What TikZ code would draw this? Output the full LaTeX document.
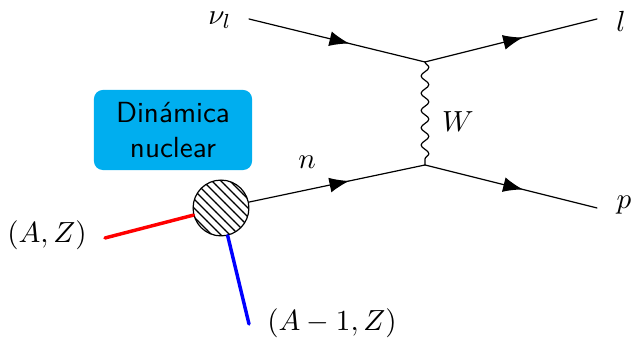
\documentclass[tikz,border=0pt]{standalone}
\usetikzlibrary{arrows.meta,decorations.markings,decorations.pathmorphing,patterns}
\definecolor{boxblue}{RGB}{0,174,239}
\tikzset{
  fermion/.style={thin,decoration={markings,mark=at position 0.57 with {\arrow{Latex[length=6.6pt,width=5pt]}}},postaction={decorate}},
  boson/.style={thin,decoration={snake,amplitude=1.3pt,segment length=5.75pt},decorate},
  blob/.style={circle,draw,thin,minimum size=18.6pt,inner sep=0pt,pattern=north west lines},
  nucleon/.style={line width=1.15pt},
  lbl/.style={scale=0.97},
}
\begin{document}
\begin{tikzpicture}[x=0.3333pt,y=-0.3333pt,line cap=round,line join=round]
  \useasboundingbox (0,0) rectangle (631,338);

  % Vertices
  \coordinate (Vt) at (425,62);
  \coordinate (Vb) at (425,165);

  % Free ends
  \coordinate (Nu) at (249,19);
  \coordinate (Lp) at (597,19);
  \coordinate (Pr) at (597,208);
  \coordinate (In) at (105,238);
  \coordinate (Out) at (249,324);

  % Nucleus
  \node[blob] (N) at (221,208) {};

  % Fermion lines
  \draw[fermion] (Nu) -- (Vt);
  \draw[fermion] (Vt) -- (Lp);
  \draw[fermion] (N) -- (Vb);
  \draw[fermion] (Vb) -- (Pr);

  % W exchange
  \draw[boson] (Vt) -- (Vb);

  % Nucleus legs
  \draw[nucleon,red] (In) -- (N);
  \draw[nucleon,blue] (N) -- (Out);

  % Box
  \node[fill=boxblue,rounded corners=3pt,minimum width=52.7pt,minimum height=26.7pt,inner sep=0pt,
        align=center,font=\fontsize{9.7}{11.7}\selectfont\sffamily] (Din) at (173,130) {Din\'amica\\nuclear};

  % Labels
  \node[lbl] (lnu) at (220,20) {$\nu_l$};
  \node[lbl] (ll) at (621,21) {$l$};
  \node[lbl] (ln) at (307,162) {$n$};
  \node[lbl] (lW) at (458,122) {$W$};
  \node[lbl] (lp) at (624,205) {$p$};
  \node[lbl] (lAZ) at (47,235) {$(A,Z)$};
  \node[lbl] (lAm) at (332,323) {$(A-1,Z)$};
\end{tikzpicture}
\end{document}
